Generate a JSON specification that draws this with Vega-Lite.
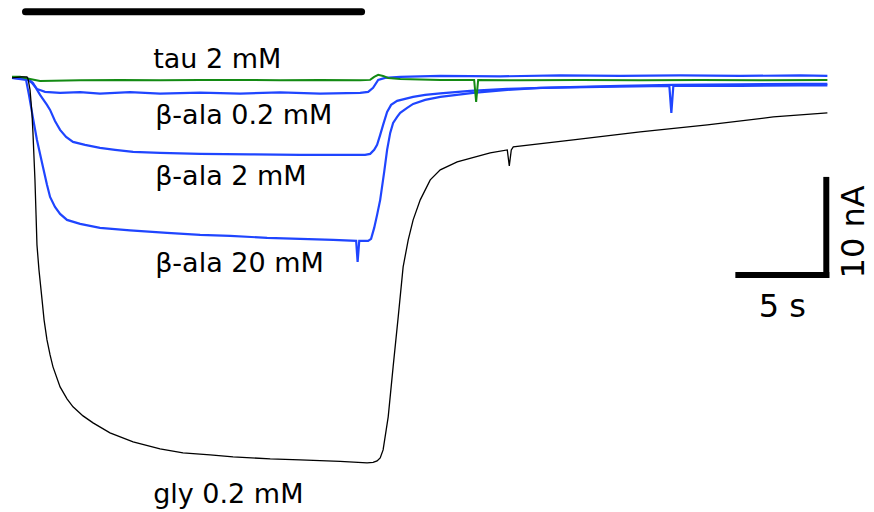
{
  "$schema": "https://vega.github.io/schema/vega-lite/v6.json",
  "width": 874,
  "height": 512,
  "padding": 0,
  "autosize": {"type": "none"},
  "background": "white",
  "config": {"view": {"stroke": null}},
  "datasets": {
    "traces": [
      {"trace": "b02", "t": 0.66, "I": 0},
      {"trace": "b02", "t": 1.37, "I": 0},
      {"trace": "b02", "t": 1.76, "I": -0.53},
      {"trace": "b02", "t": 2.03, "I": -1.16},
      {"trace": "b02", "t": 2.47, "I": -1.47},
      {"trace": "b02", "t": 3.30, "I": -1.58},
      {"trace": "b02", "t": 4.40, "I": -1.50},
      {"trace": "b02", "t": 5.49, "I": -1.66},
      {"trace": "b02", "t": 7.14, "I": -1.50},
      {"trace": "b02", "t": 8.79, "I": -1.66},
      {"trace": "b02", "t": 10.99, "I": -1.56},
      {"trace": "b02", "t": 13.19, "I": -1.66},
      {"trace": "b02", "t": 15.38, "I": -1.52},
      {"trace": "b02", "t": 17.58, "I": -1.65},
      {"trace": "b02", "t": 19.78, "I": -1.58},
      {"trace": "b02", "t": 20.22, "I": -1.47},
      {"trace": "b02", "t": 20.49, "I": -1.05},
      {"trace": "b02", "t": 20.77, "I": -0.21},
      {"trace": "b02", "t": 21.15, "I": 0},
      {"trace": "b02", "t": 21.98, "I": 0.11},
      {"trace": "b02", "t": 24.18, "I": 0.21},
      {"trace": "b02", "t": 27.47, "I": 0.16},
      {"trace": "b02", "t": 30.77, "I": 0.26},
      {"trace": "b02", "t": 34.07, "I": 0.21},
      {"trace": "b02", "t": 37.36, "I": 0.26},
      {"trace": "b02", "t": 40.66, "I": 0.21},
      {"trace": "b02", "t": 43.96, "I": 0.26},
      {"trace": "b02", "t": 45.44, "I": 0.21},

      {"trace": "b2", "t": 0.66, "I": 0},
      {"trace": "b2", "t": 1.54, "I": -0.11},
      {"trace": "b2", "t": 1.81, "I": -0.53},
      {"trace": "b2", "t": 2.20, "I": -1.79},
      {"trace": "b2", "t": 2.58, "I": -2.84},
      {"trace": "b2", "t": 2.75, "I": -3.37},
      {"trace": "b2", "t": 3.02, "I": -4.53},
      {"trace": "b2", "t": 3.30, "I": -5.47},
      {"trace": "b2", "t": 3.63, "I": -6.21},
      {"trace": "b2", "t": 4.01, "I": -6.74},
      {"trace": "b2", "t": 4.67, "I": -7.05},
      {"trace": "b2", "t": 5.49, "I": -7.37},
      {"trace": "b2", "t": 6.32, "I": -7.58},
      {"trace": "b2", "t": 7.31, "I": -7.79},
      {"trace": "b2", "t": 8.79, "I": -7.89},
      {"trace": "b2", "t": 10.99, "I": -8.00},
      {"trace": "b2", "t": 13.74, "I": -8.05},
      {"trace": "b2", "t": 16.48, "I": -8.11},
      {"trace": "b2", "t": 18.68, "I": -8.11},
      {"trace": "b2", "t": 20.05, "I": -8.11},
      {"trace": "b2", "t": 20.33, "I": -8.00},
      {"trace": "b2", "t": 20.55, "I": -7.58},
      {"trace": "b2", "t": 20.71, "I": -7.05},
      {"trace": "b2", "t": 20.88, "I": -6.00},
      {"trace": "b2", "t": 21.04, "I": -4.95},
      {"trace": "b2", "t": 21.26, "I": -3.58},
      {"trace": "b2", "t": 21.48, "I": -2.84},
      {"trace": "b2", "t": 21.81, "I": -2.42},
      {"trace": "b2", "t": 22.25, "I": -2.21},
      {"trace": "b2", "t": 22.69, "I": -2.00},
      {"trace": "b2", "t": 23.35, "I": -1.79},
      {"trace": "b2", "t": 24.18, "I": -1.63},
      {"trace": "b2", "t": 25.82, "I": -1.37},
      {"trace": "b2", "t": 27.86, "I": -1.16},
      {"trace": "b2", "t": 30.77, "I": -1.00},
      {"trace": "b2", "t": 34.07, "I": -0.84},
      {"trace": "b2", "t": 36.98, "I": -0.74},
      {"trace": "b2", "t": 40.66, "I": -0.68},
      {"trace": "b2", "t": 43.96, "I": -0.63},
      {"trace": "b2", "t": 45.44, "I": -0.63},

      {"trace": "b20", "t": 0.66, "I": 0},
      {"trace": "b20", "t": 1.43, "I": -0.21},
      {"trace": "b20", "t": 1.59, "I": -1.79},
      {"trace": "b20", "t": 1.81, "I": -4.21},
      {"trace": "b20", "t": 2.03, "I": -6.53},
      {"trace": "b20", "t": 2.36, "I": -9.37},
      {"trace": "b20", "t": 2.58, "I": -11.26},
      {"trace": "b20", "t": 2.75, "I": -12.53},
      {"trace": "b20", "t": 3.02, "I": -13.58},
      {"trace": "b20", "t": 3.30, "I": -14.32},
      {"trace": "b20", "t": 3.68, "I": -14.95},
      {"trace": "b20", "t": 4.40, "I": -15.37},
      {"trace": "b20", "t": 5.49, "I": -15.79},
      {"trace": "b20", "t": 7.14, "I": -16.05},
      {"trace": "b20", "t": 9.18, "I": -16.32},
      {"trace": "b20", "t": 10.99, "I": -16.53},
      {"trace": "b20", "t": 12.64, "I": -16.63},
      {"trace": "b20", "t": 14.67, "I": -16.84},
      {"trace": "b20", "t": 16.48, "I": -16.95},
      {"trace": "b20", "t": 18.30, "I": -17.05},
      {"trace": "b20", "t": 19.56, "I": -17.16},
      {"trace": "b20", "t": 19.64, "I": -19.37},
      {"trace": "b20", "t": 19.73, "I": -17.16},
      {"trace": "b20", "t": 20.22, "I": -17.16},
      {"trace": "b20", "t": 20.38, "I": -16.95},
      {"trace": "b20", "t": 20.55, "I": -15.79},
      {"trace": "b20", "t": 20.71, "I": -14.42},
      {"trace": "b20", "t": 20.88, "I": -12.84},
      {"trace": "b20", "t": 21.10, "I": -9.89},
      {"trace": "b20", "t": 21.26, "I": -7.58},
      {"trace": "b20", "t": 21.43, "I": -5.79},
      {"trace": "b20", "t": 21.59, "I": -4.74},
      {"trace": "b20", "t": 21.81, "I": -4.11},
      {"trace": "b20", "t": 21.98, "I": -3.68},
      {"trace": "b20", "t": 22.36, "I": -3.16},
      {"trace": "b20", "t": 22.69, "I": -2.74},
      {"trace": "b20", "t": 23.35, "I": -2.32},
      {"trace": "b20", "t": 24.18, "I": -2.00},
      {"trace": "b20", "t": 25.99, "I": -1.58},
      {"trace": "b20", "t": 27.86, "I": -1.26},
      {"trace": "b20", "t": 29.67, "I": -1.05},
      {"trace": "b20", "t": 32.97, "I": -0.95},
      {"trace": "b20", "t": 36.76, "I": -0.84},
      {"trace": "b20", "t": 36.87, "I": -3.68},
      {"trace": "b20", "t": 36.98, "I": -0.84},
      {"trace": "b20", "t": 40.66, "I": -0.84},
      {"trace": "b20", "t": 43.96, "I": -0.79},
      {"trace": "b20", "t": 45.44, "I": -0.79},

      {"trace": "tau", "t": 0.66, "I": 0.11},
      {"trace": "tau", "t": 1.10, "I": 0.11},
      {"trace": "tau", "t": 1.65, "I": -0.11},
      {"trace": "tau", "t": 2.20, "I": -0.32},
      {"trace": "tau", "t": 4.40, "I": -0.26},
      {"trace": "tau", "t": 6.59, "I": -0.21},
      {"trace": "tau", "t": 8.79, "I": -0.26},
      {"trace": "tau", "t": 10.99, "I": -0.21},
      {"trace": "tau", "t": 13.19, "I": -0.21},
      {"trace": "tau", "t": 15.38, "I": -0.26},
      {"trace": "tau", "t": 17.58, "I": -0.21},
      {"trace": "tau", "t": 19.78, "I": -0.26},
      {"trace": "tau", "t": 20.33, "I": -0.21},
      {"trace": "tau", "t": 20.55, "I": 0.11},
      {"trace": "tau", "t": 20.77, "I": 0.32},
      {"trace": "tau", "t": 21.04, "I": 0.21},
      {"trace": "tau", "t": 21.32, "I": 0},
      {"trace": "tau", "t": 21.98, "I": -0.11},
      {"trace": "tau", "t": 24.18, "I": -0.21},
      {"trace": "tau", "t": 26.04, "I": -0.21},
      {"trace": "tau", "t": 26.15, "I": -2.53},
      {"trace": "tau", "t": 26.26, "I": -0.21},
      {"trace": "tau", "t": 28.57, "I": -0.26},
      {"trace": "tau", "t": 31.87, "I": -0.21},
      {"trace": "tau", "t": 35.16, "I": -0.26},
      {"trace": "tau", "t": 38.46, "I": -0.21},
      {"trace": "tau", "t": 41.76, "I": -0.26},
      {"trace": "tau", "t": 45.44, "I": -0.21},

      {"trace": "gly", "t": 0.66, "I": 0},
      {"trace": "gly", "t": 1.21, "I": 0.11},
      {"trace": "gly", "t": 1.48, "I": 0.11},
      {"trace": "gly", "t": 1.54, "I": -0.11},
      {"trace": "gly", "t": 1.65, "I": -1.26},
      {"trace": "gly", "t": 1.76, "I": -3.89},
      {"trace": "gly", "t": 1.81, "I": -5.79},
      {"trace": "gly", "t": 1.92, "I": -10.74},
      {"trace": "gly", "t": 1.98, "I": -14.42},
      {"trace": "gly", "t": 2.03, "I": -17.58},
      {"trace": "gly", "t": 2.14, "I": -20.21},
      {"trace": "gly", "t": 2.31, "I": -23.37},
      {"trace": "gly", "t": 2.42, "I": -25.47},
      {"trace": "gly", "t": 2.58, "I": -27.58},
      {"trace": "gly", "t": 2.75, "I": -29.16},
      {"trace": "gly", "t": 2.91, "I": -30.42},
      {"trace": "gly", "t": 3.30, "I": -32.53},
      {"trace": "gly", "t": 3.68, "I": -33.79},
      {"trace": "gly", "t": 4.01, "I": -34.63},
      {"trace": "gly", "t": 4.56, "I": -35.58},
      {"trace": "gly", "t": 5.11, "I": -36.32},
      {"trace": "gly", "t": 6.04, "I": -37.37},
      {"trace": "gly", "t": 7.31, "I": -38.32},
      {"trace": "gly", "t": 8.79, "I": -39.05},
      {"trace": "gly", "t": 10.05, "I": -39.47},
      {"trace": "gly", "t": 11.54, "I": -39.68},
      {"trace": "gly", "t": 12.80, "I": -39.89},
      {"trace": "gly", "t": 14.84, "I": -40.11},
      {"trace": "gly", "t": 16.48, "I": -40.21},
      {"trace": "gly", "t": 18.68, "I": -40.37},
      {"trace": "gly", "t": 20.16, "I": -40.53},
      {"trace": "gly", "t": 20.49, "I": -40.47},
      {"trace": "gly", "t": 20.71, "I": -40.32},
      {"trace": "gly", "t": 20.88, "I": -40.00},
      {"trace": "gly", "t": 21.04, "I": -39.16},
      {"trace": "gly", "t": 21.21, "I": -37.05},
      {"trace": "gly", "t": 21.32, "I": -35.68},
      {"trace": "gly", "t": 21.59, "I": -30.42},
      {"trace": "gly", "t": 21.87, "I": -25.16},
      {"trace": "gly", "t": 22.14, "I": -19.89},
      {"trace": "gly", "t": 22.42, "I": -17.05},
      {"trace": "gly", "t": 22.69, "I": -14.95},
      {"trace": "gly", "t": 23.08, "I": -12.84},
      {"trace": "gly", "t": 23.63, "I": -10.74},
      {"trace": "gly", "t": 24.18, "I": -9.68},
      {"trace": "gly", "t": 25.11, "I": -8.84},
      {"trace": "gly", "t": 26.92, "I": -7.89},
      {"trace": "gly", "t": 27.86, "I": -7.58},
      {"trace": "gly", "t": 27.97, "I": -9.26},
      {"trace": "gly", "t": 28.08, "I": -7.58},
      {"trace": "gly", "t": 28.19, "I": -7.26},
      {"trace": "gly", "t": 31.48, "I": -6.53},
      {"trace": "gly", "t": 35.16, "I": -5.68},
      {"trace": "gly", "t": 38.85, "I": -4.95},
      {"trace": "gly", "t": 42.47, "I": -4.11},
      {"trace": "gly", "t": 45.44, "I": -3.68}
    ],
    "labels": [
      {"label": "tau 2 mM", "t": 8.41, "I": 1.05},
      {"label": "β-ala 0.2 mM", "t": 8.52, "I": -4.84},
      {"label": "β-ala 2 mM", "t": 8.52, "I": -11.26},
      {"label": "β-ala 20 mM", "t": 8.52, "I": -20.42},
      {"label": "gly 0.2 mM", "t": 8.41, "I": -44.74}
    ],
    "stim": [{"t1": 1.40, "t2": 19.86, "I": 6.95}],
    "scalebar": [
      {"t1": 40.55, "t2": 45.38, "I1": -20.74, "I2": -20.74},
      {"t1": 45.38, "t2": 45.38, "I1": -10.74, "I2": -20.74}
    ],
    "scaletext": [
      {"label": "5 s", "t": 42.97, "I": -25.16, "angle": 0},
      {"label": "10 nA", "t": 47.45, "I": -16.21, "angle": 270}
    ]
  },
  "layer": [
    {
      "data": {"name": "traces"},
      "transform": [{"filter": "datum.trace === 'b02' || datum.trace === 'b2' || datum.trace === 'b20'"}],
      "mark": {"type": "line", "strokeWidth": 2.2, "color": "#1f45ff", "clip": false},
      "encoding": {
        "x": {"field": "t", "type": "quantitative", "scale": {"domain": [0, 48], "nice": false, "zero": false}, "axis": null},
        "y": {"field": "I", "type": "quantitative", "scale": {"domain": [-45.7, 8.2], "nice": false, "zero": false}, "axis": null},
        "detail": {"field": "trace"}
      }
    },
    {
      "data": {"name": "traces"},
      "transform": [{"filter": "datum.trace === 'tau'"}],
      "mark": {"type": "line", "strokeWidth": 2, "color": "#138a13"},
      "encoding": {
        "x": {"field": "t", "type": "quantitative"},
        "y": {"field": "I", "type": "quantitative"}
      }
    },
    {
      "data": {"name": "traces"},
      "transform": [{"filter": "datum.trace === 'gly'"}],
      "mark": {"type": "line", "strokeWidth": 1.3, "color": "#000000"},
      "encoding": {
        "x": {"field": "t", "type": "quantitative"},
        "y": {"field": "I", "type": "quantitative"}
      }
    },
    {
      "data": {"name": "stim"},
      "mark": {"type": "rule", "strokeWidth": 7, "strokeCap": "round", "color": "#000000"},
      "encoding": {
        "x": {"field": "t1", "type": "quantitative"},
        "x2": {"field": "t2"},
        "y": {"field": "I", "type": "quantitative"}
      }
    },
    {
      "data": {"name": "scalebar"},
      "mark": {"type": "rule", "strokeWidth": 6, "strokeCap": "square", "color": "#000000"},
      "encoding": {
        "x": {"field": "t1", "type": "quantitative"},
        "x2": {"field": "t2"},
        "y": {"field": "I1", "type": "quantitative"},
        "y2": {"field": "I2"}
      }
    },
    {
      "data": {"name": "labels"},
      "mark": {"type": "text", "font": "DejaVu Sans", "fontSize": 27, "align": "left", "baseline": "alphabetic", "color": "#000000"},
      "encoding": {
        "x": {"field": "t", "type": "quantitative"},
        "y": {"field": "I", "type": "quantitative"},
        "text": {"field": "label"}
      }
    },
    {
      "data": {"name": "scaletext"},
      "mark": {"type": "text", "font": "DejaVu Sans", "fontSize": 32, "align": "center", "baseline": "alphabetic", "color": "#000000"},
      "encoding": {
        "x": {"field": "t", "type": "quantitative"},
        "y": {"field": "I", "type": "quantitative"},
        "text": {"field": "label"},
        "angle": {"field": "angle", "type": "quantitative", "scale": null}
      }
    }
  ]
}
